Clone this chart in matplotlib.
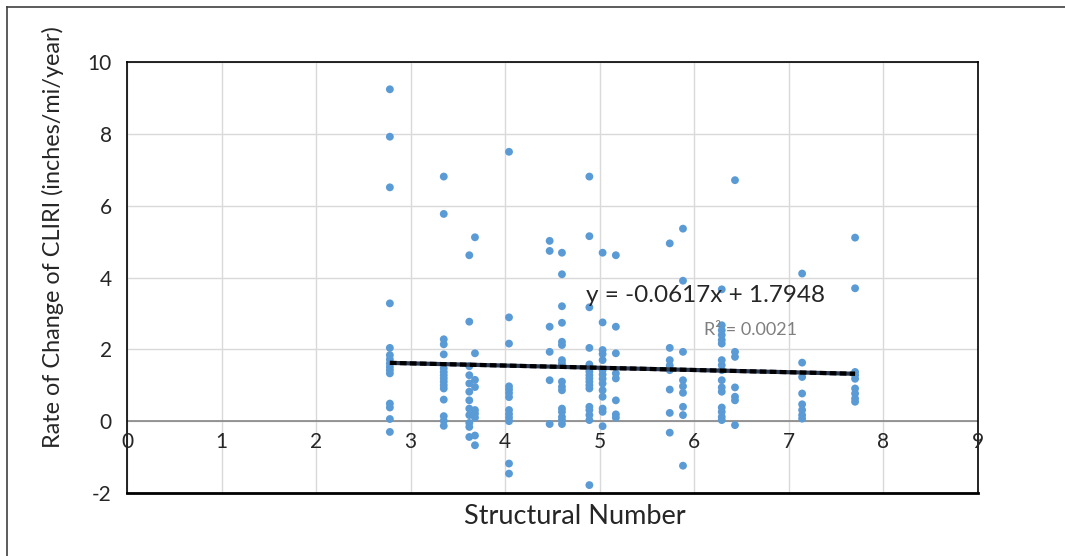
import matplotlib
matplotlib.use("Agg")
import matplotlib.pyplot as plt
from matplotlib.lines import Line2D
import numpy as np

plt.rcParams['font.family'] = ['Lato', 'DejaVu Sans']
plt.rcParams['axes.unicode_minus'] = False

# Structural number columns and the CLIRI rate values
sn_cols = [2.78, 3.35, 3.62, 3.68, 4.04, 4.47, 4.60, 4.89, 5.03, 5.17,
           5.74, 5.88, 6.29, 6.43, 7.14, 7.70]
rate_cols = [
    [9.24, 7.92, 6.51, 3.28, 2.04, 1.84, 1.72, 1.61, 1.51, 1.42, 1.33, 0.49, 0.38, 0.06, -0.30],
    [6.81, 5.77, 2.28, 2.14, 1.86, 1.47, 1.37, 1.28, 1.19, 1.10, 1.00, 0.91, 0.60, 0.14, 0.01, -0.13],
    [4.62, 2.77, 1.53, 1.28, 1.05, 0.82, 0.58, 0.35, 0.17, -0.05, -0.16, -0.44],
    [5.12, 1.89, 1.15, 0.95, 0.31, 0.21, 0.10, -0.40, -0.67],
    [7.50, 2.89, 2.16, 0.97, 0.88, 0.78, 0.67, 0.31, 0.20, 0.10, 0.00, -1.18, -1.46],
    [5.02, 4.74, 2.63, 1.93, 1.14, -0.08],
    [4.69, 4.09, 3.20, 2.74, 2.21, 2.12, 1.70, 1.61, 1.10, 0.96, 0.86, 0.35, 0.26, 0.12, 0.03, -0.08],
    [6.81, 5.15, 3.17, 2.04, 1.58, 1.47, 1.38, 1.28, 1.19, 1.10, 1.00, 0.91, 0.40, 0.31, 0.17, 0.03, -1.78],
    [4.69, 2.75, 1.98, 1.87, 1.70, 1.42, 1.30, 1.18, 1.05, 0.86, 0.68, 0.35, 0.26, -0.14],
    [4.62, 2.63, 1.89, 1.33, 1.19, 0.58, 0.19, 0.10],
    [4.95, 2.04, 1.70, 1.55, 1.42, 0.88, 0.23, -0.32],
    [5.36, 3.91, 1.93, 1.14, 0.97, 0.79, 0.40, 0.17, -1.24],
    [3.67, 2.67, 2.53, 2.40, 2.26, 2.16, 1.70, 1.56, 1.42, 1.14, 0.94, 0.82, 0.38, 0.26, 0.12, 0.03],
    [6.71, 1.93, 1.79, 0.94, 0.68, 0.58, -0.11],
    [4.11, 1.63, 1.23, 0.77, 0.47, 0.31, 0.17, 0.07],
    [5.11, 3.70, 1.37, 1.28, 1.18, 0.91, 0.77, 0.63, 0.54],
]

# trendline from the equation printed on the chart
slope = -0.0617
intercept = 1.7948
r_squared = 0.0021

x_ticks = list(range(0, 10))
y_ticks = list(range(-2, 11, 2))

xs = np.concatenate([[sn] * len(r) for sn, r in zip(sn_cols, rate_cols)])
ys = np.concatenate(rate_cols)

fig = plt.figure(figsize=(10.65, 5.56), dpi=100)
ax = fig.add_axes([127 / 1065, 1 - 493 / 556, (978 - 127) / 1065, (493 - 62) / 556])

ax.set_xlim(0, 9)
ax.set_ylim(-2, 10)
ax.set_xticks(x_ticks)
ax.set_yticks(y_ticks)
ax.grid(True, color='#d9d9d9', linewidth=1)
ax.set_axisbelow(True)
ax.axhline(0, color='#868686', linewidth=1.2, zorder=1)

for s in ax.spines.values():
    s.set_color('black')
    s.set_linewidth(1.2)
ax.spines['bottom'].set_linewidth(2)

ax.tick_params(axis='both', length=0, labelsize=15, colors='#262626')
ax.tick_params(axis='y', pad=11)
ax.tick_params(axis='x', pad=0)
ax.set_xticklabels([])
for t in x_ticks:
    ax.text(t, -0.3, str(t), ha='center', va='top', fontsize=15, color='#262626')

ax.scatter(xs, ys, s=32, color='#5b9bd5', edgecolors='none', zorder=3)

tx = np.array([min(sn_cols), max(sn_cols)])
ty = slope * tx + intercept
ax.plot(tx, ty, color='#2b3a55', linewidth=3, zorder=4, solid_capstyle='butt')
ax.plot(tx, ty, color='black', linewidth=3, linestyle=(0, (1.6, 0.8)), zorder=5)

ax.text(4.85, 3.5, f"y = {slope}x + {intercept}", fontsize=17.5, color='#262626',
        va='center', ha='left', zorder=6)
ax.text(6.1, 2.55, f"R² = {r_squared}", fontsize=13, color='#7f7f7f',
        va='center', ha='left', zorder=6)

ax.set_xlabel("Structural Number", fontsize=19.5, color='#262626')
ax.xaxis.set_label_coords(0.526, -0.026)
ax.set_ylabel("Rate of Change of CLIRI (inches/mi/year)", fontsize=16.8,
              color='#262626')
ax.yaxis.set_label_coords(-0.074, 0.594)

# outer chart border (left and top edges visible)
fig.add_artist(Line2D([7 / 1065, 7 / 1065], [0, 1 - 7 / 556], color='#404040', linewidth=1.2))
fig.add_artist(Line2D([7 / 1065, 1], [1 - 7 / 556, 1 - 7 / 556], color='#404040', linewidth=1.2))

fig.savefig("out.png", dpi=100)
